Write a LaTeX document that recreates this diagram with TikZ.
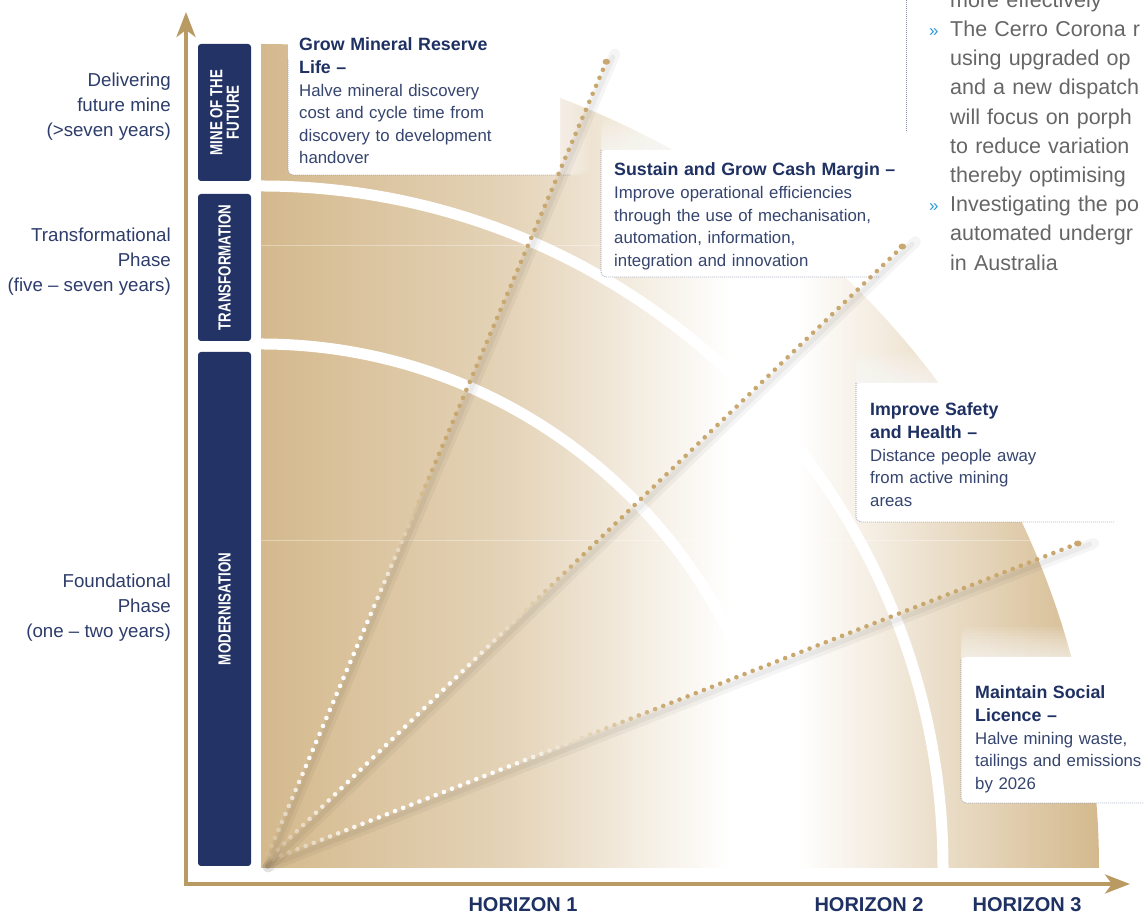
\documentclass[tikz,border=0pt]{standalone}
\usepackage{fontspec}
\setmainfont{Liberation Sans}
\newfontfamily\condfont[FakeStretch=0.76]{Liberation Sans}
\usetikzlibrary{arrows.meta, calc}
\definecolor{barnavy}{HTML}{233366}
\definecolor{textnavy}{HTML}{1F3163}
\definecolor{bodynavy}{HTML}{36456F}
\definecolor{labelnavy}{HTML}{2D3C6A}
\definecolor{fangold}{HTML}{D4B98D}
\definecolor{axisgold}{HTML}{B99A63}
\definecolor{dotgold}{HTML}{C8A86F}
\definecolor{edgegrey}{HTML}{8C96AC}
\definecolor{bodygrey}{HTML}{666666}
\definecolor{bulletblue}{HTML}{2B9AD2}
\colorlet{fanmid}{fangold!62!white}
\colorlet{fanlight}{fangold!50!white}
\pgfdeclarehorizontalshading{fanfade}{100bp}{color(0bp)=(fangold); color(25bp)=(fangold);
  color(40bp)=(fanmid); color(53bp)=(white); color(57bp)=(white); color(66bp)=(fanlight);
  color(75bp)=(fangold); color(100bp)=(fangold)}
\newcommand{\goalhead}{\bfseries\fontsize{17.8}{22.6}\selectfont\color{textnavy}}
\tikzset{
  axisline/.style={draw=axisgold, line width=4pt, line join=miter,
    {Stealth[length=25pt,width=19pt,inset=7pt]}-{Stealth[length=25pt,width=19pt,inset=7pt]}},
  phasebar/.style={fill=barnavy, rounded corners=3pt, rotate=90, text=white, align=center,
    inner sep=0pt, font={\condfont\bfseries\fontsize{17.5}{16.5}\selectfont}},
  sidelabel/.style={text=labelnavy, align=right, anchor=east, inner sep=0pt,
    font=\fontsize{18.7}{25}\selectfont},
  horizon/.style={text=textnavy, anchor=base, inner sep=0pt,
    font=\bfseries\fontsize{20}{22}\selectfont},
  goaltext/.style={text=bodynavy, anchor=base west, inner sep=0pt, align=left,
    text width=#1, font=\fontsize{16.8}{22.6}\selectfont},
  goaltext/.default=230pt,
  boxedge/.style={draw=edgegrey, line width=0.8pt, dash pattern=on 0.8pt off 1.2pt,
    rounded corners=5pt},
  greytext/.style={text=bodygrey, anchor=base west, inner sep=0pt, align=left,
    text width=260pt, font=\fontsize{21.5}{29.2}\selectfont},
  bulletmark/.style={text=bulletblue, anchor=base west, inner sep=0pt,
    font=\fontsize{17}{20}\selectfont}
}

\begin{document}
\begin{tikzpicture}[x=1pt, y=1pt]
  \path[use as bounding box] (0,0) rectangle (1144,915);
  \clip (0,0) rectangle (1144,915);

  % fan of horizons
  \coordinate (fanc) at (261,47);
  \shade[shading=fanfade] (fanc) -- ++(838,0)
    arc[start angle=0, end angle=90, x radius=838, y radius=824] -- cycle;
  \begin{scope}
    \clip (fanc) -- ++(838,0) arc[start angle=0, end angle=90, x radius=838, y radius=824] -- cycle;
    \foreach \yy in {374,669}
      \draw[white, opacity=0.35, line width=1pt] (261,\yy) -- (1144,\yy);
  \end{scope}
  \foreach \r in {524,682}
    \draw[white, line width=11pt] ($(fanc)+(\r,0)$) arc[start angle=0, end angle=90, radius=\r];

  % goal boxes
  \foreach \xa/\ya/\xb/\yb in {288/740/560/878, 601/638/868/765, 856/393/1110/532, 961/112/1160/258} {
    \foreach \g in {3,6,...,30}
      \fill[white, opacity=0.085, rounded corners=8pt] (\xa,\ya) rectangle (\xb+\g,\yb+\g);
    \fill[white, rounded corners=5pt] (\xa,\ya) rectangle (\xb,\yb);
  }
  \draw[boxedge] (288,855) -- (288,740) -- (570,740);
  \draw[boxedge] (601,765) -- (601,638) -- (880,638);
  \draw[boxedge] (856,532) -- (856,393) -- (1115,393);
  \draw[boxedge] (961,255) -- (961,112) -- (1144,112);

  % rays
  \coordinate (rayorig) at (265,53);
  \foreach \ang/\len in {66.9/870, 44/886, 21.4/873} {
    \draw[black, opacity=0.04, line width=11pt, line cap=round] ($(rayorig)+(3,-5)$) -- ++(\ang:\len+14);
    \draw[black, opacity=0.045, line width=5pt, line cap=round] ($(rayorig)+(2.5,-4.5)$) -- ++(\ang:\len+10);
    \foreach \i in {1,...,100} {
      \pgfmathsetmacro\t{\i/100}
      \pgfmathsetmacro\mix{max(0,min(100,(\t-0.3)*500))}
      \pgfmathsetmacro\op{min(1,\t*8)}
      \fill[dotgold!\mix!white, opacity=\op] (rayorig) ++(\ang:\t*\len) circle[radius=2.3];
    }
    \fill[dotgold] (rayorig) ++(\ang:\len) ellipse[x radius=3.8, y radius=3];
  }

  \node[goaltext] (goalreserve) at (299,864)
    {{\goalhead Grow Mineral Reserve\\Life –}\\Halve mineral discovery\\cost and cycle time from\\discovery to development\\handover};
  \node[goaltext=300pt] (goalmargin) at (614,739)
    {{\goalhead Sustain and Grow Cash Margin –}\\Improve operational efficiencies\\through the use of mechanisation,\\automation, information,\\integration and innovation};
  \node[goaltext=200pt] (goalsafety) at (870,499)
    {{\goalhead Improve Safety\\and Health –}\\Distance people away\\from active mining\\areas};
  \node[goaltext=200pt] (goallicence) at (975,216)
    {{\goalhead Maintain Social\\Licence –}\\Halve mining waste,\\tailings and emissions\\by 2026};

  % phases
  \node[phasebar, minimum width=137pt, minimum height=53pt] (barfuture) at (224.5,802.5) {MINE OF THE\\FUTURE};
  \node[phasebar, minimum width=147pt, minimum height=53pt] (bartrans) at (224.5,647.5) {TRANSFORMATION};
  \node[phasebar, minimum width=514pt, minimum height=53pt] (barmodern) at (224.5,306) {MODERNISATION};

  \node[sidelabel] (phasefuture) at (171,808) {Delivering\\future mine\\(>seven years)};
  \node[sidelabel] (phasetrans) at (171,653) {Transformational\\Phase\\(five – seven years)};
  \node[sidelabel] (phasefound) at (171,307) {Foundational\\Phase\\(one – two years)};

  \coordinate (ytip) at (186,903);
  \coordinate (axcorner) at (186,31);
  \coordinate (xtip) at (1130,31);
  \draw[axisline] (ytip) -- (axcorner) -- (xtip);

  \node[horizon] (horone) at (523,3) {HORIZON 1};
  \node[horizon] (hortwo) at (869,3) {HORIZON 2};
  \node[horizon] (horthree) at (1027,3) {HORIZON 3};

  % cut-off column on the right
  \draw[boxedge, rounded corners=0pt] (906,915) -- (906,783);
  \node[greytext] (cerrotext) at (950,907.7)
    {more effectively\\The Cerro Corona r\\using upgraded op\\and a new dispatch\\will focus on porph\\to reduce variation\\thereby optimising\\Investigating the po\\automated undergr\\in Australia};
  \node[bulletmark] (bulletcerro) at (929,878.5) {»};
  \node[bulletmark] (bulletinvest) at (929,703.3) {»};
\end{tikzpicture}
\end{document}
